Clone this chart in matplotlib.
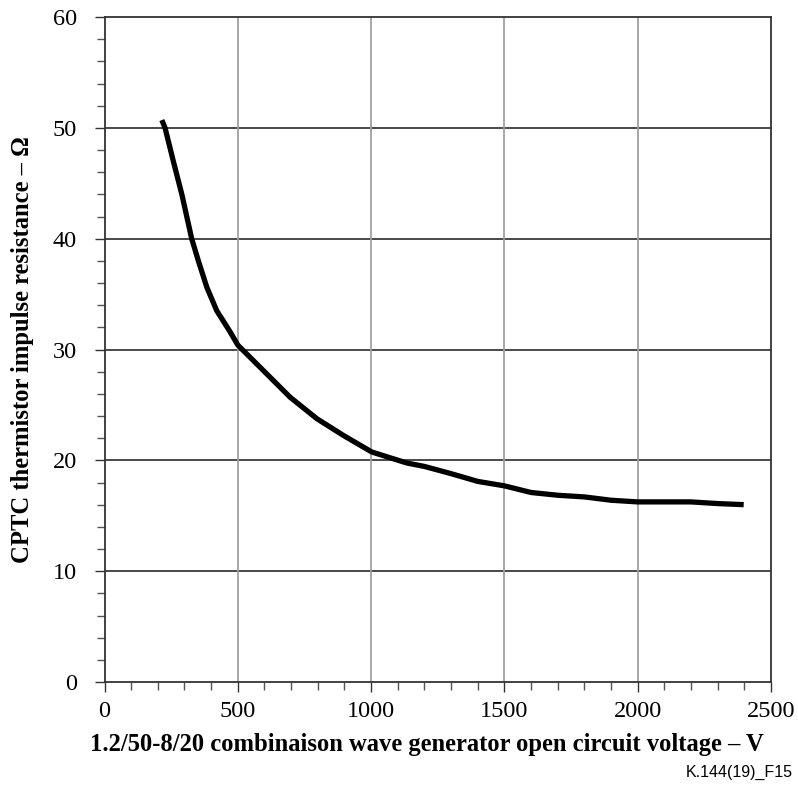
import matplotlib
matplotlib.use("Agg")
import matplotlib.pyplot as plt
from matplotlib.ticker import MultipleLocator

# Curve
voltage = [215, 227, 258, 290, 327, 352, 384, 421, 471, 500, 596, 696, 797,
           896, 1003, 1134, 1200, 1300, 1400, 1500, 1600, 1700, 1800, 1900,
           2000, 2100, 2200, 2300, 2398]
resistance = [50.7, 50.0, 47.0, 44.0, 40.0, 38.0, 35.6, 33.5, 31.6, 30.4,
              28.1, 25.7, 23.75, 22.25, 20.75, 19.76, 19.45, 18.8, 18.1, 17.7,
              17.1, 16.85, 16.7, 16.4, 16.25, 16.25, 16.25, 16.1, 16.0]

x_ticks = [0, 500, 1000, 1500, 2000, 2500]
y_ticks = [0, 10, 20, 30, 40, 50, 60]

plt.rcParams["font.family"] = ["Liberation Serif", "DejaVu Serif"]

fig = plt.figure(figsize=(7.98, 7.91), dpi=100)
ax = fig.add_axes([0.131, 0.1378, 0.835, 0.8407])

# grid: dark horizontal lines, light vertical lines
for y in y_ticks[1:-1]:
    ax.axhline(y, color="#3a3a3a", linewidth=1.3, zorder=1)
for x in x_ticks[1:-1]:
    ax.axvline(x, color="#a0a0a0", linewidth=1.3, zorder=1)

ax.plot(voltage, resistance, color="black", linewidth=3.8,
        solid_capstyle="butt", solid_joinstyle="round", zorder=3)

ax.set_xlim(0, 2500)
ax.set_ylim(0, 60)
ax.set_xticks(x_ticks)
ax.set_yticks(y_ticks)
ax.xaxis.set_minor_locator(MultipleLocator(100))
ax.yaxis.set_minor_locator(MultipleLocator(2))
ax.tick_params(which="both", direction="out", color="#555555", width=1.0,
               labelsize=17.5)
ax.tick_params(which="major", length=7, color="#333333")
ax.tick_params(which="minor", length=6)
ax.tick_params(axis="x", which="major", pad=7)
ax.tick_params(axis="y", which="major", pad=13)

for s in ax.spines.values():
    s.set_color("#333333")
    s.set_linewidth(1.3)

ax.set_xlabel("1.2/50-8/20 combinaison wave generator open circuit voltage \u2013 V",
              fontsize=17.7, fontweight="bold", va="center")
ax.xaxis.set_label_coords(0.484, -0.0946)
ax.set_ylabel("CPTC thermistor impulse resistance \u2013 \u03a9",
              fontsize=17.7, fontweight="bold", va="center")
ax.yaxis.set_label_coords(-0.123, 0.5)

fig.text(0.994, 0.014, "K.144(19)_F15", ha="right", va="bottom",
         fontsize=11.5, family=["Liberation Sans", "DejaVu Sans"])

fig.savefig("out.png", dpi=100)
